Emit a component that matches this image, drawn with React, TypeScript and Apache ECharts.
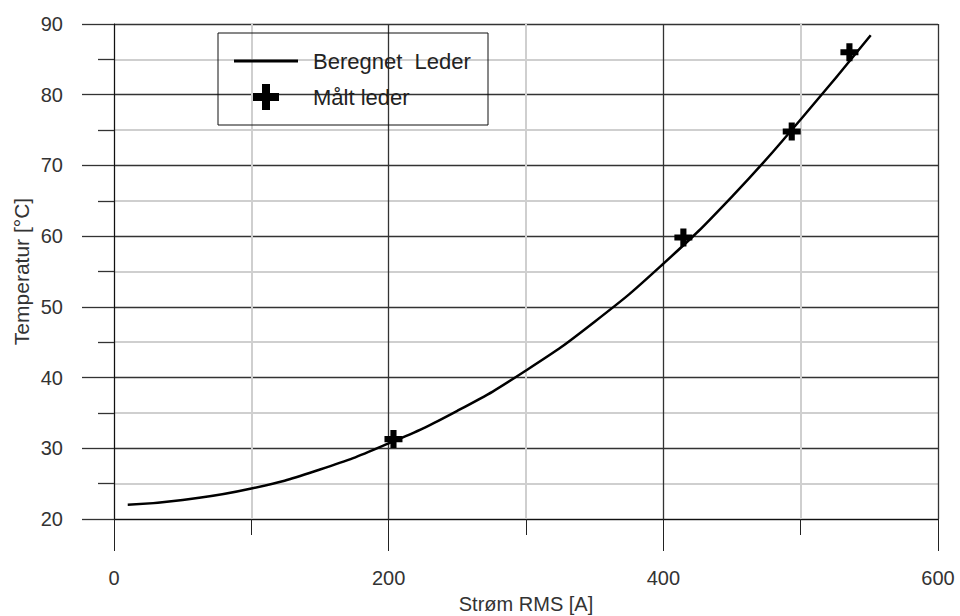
import React, { useEffect, useRef } from "react";
import * as echarts from "echarts";

const curveX = [10, 50, 100, 150, 200, 250, 300, 350, 400, 450, 500, 551];
const curveY = [22.0, 22.7, 24.3, 27.0, 30.7, 35.3, 41.0, 47.9, 56.1, 65.6, 76.5, 88.4];
const measuredX = [203.5, 414.6, 493.5, 535.5];
const measuredY = [31.3, 59.8, 74.8, 86.0];
const xTicks = [0, 200, 400, 600];
const yTicks = [20, 30, 40, 50, 60, 70, 80, 90];
const seriesNames = ["Beregnet  Leder", "Målt leder"];

const PLUS = "path://M3.3,0H6.7V3.3H10V6.7H6.7V10H3.3V6.7H0V3.3H3.3Z";
const FONT = "Liberation Sans, Arial, sans-serif";

function plusPoints(cx: number, cy: number, h: number, a: number) {
  return [
    [cx - a, cy - h], [cx + a, cy - h], [cx + a, cy - a], [cx + h, cy - a],
    [cx + h, cy + a], [cx + a, cy + a], [cx + a, cy + h], [cx - a, cy + h],
    [cx - a, cy + a], [cx - h, cy + a], [cx - h, cy - a], [cx - a, cy - a],
  ];
}

export default function App() {
  const ref = useRef<HTMLDivElement>(null);
  useEffect(() => {
    if (!ref.current) return;
    const chart = echarts.init(ref.current, null, { renderer: "svg" });
    const option = {
      animation: false,
      backgroundColor: "#fff",
      textStyle: { fontFamily: FONT },
      grid: { left: 114, right: 22, top: 24, bottom: 97, containLabel: false, outerBoundsMode: "none" },
      xAxis: {
        type: "value",
        min: xTicks[0],
        max: xTicks[xTicks.length - 1],
        interval: 200,
        name: "Strøm RMS [A]",
        nameLocation: "middle",
        nameGap: 75,
        nameMoveOverlap: false,
        nameTextStyle: { fontFamily: FONT, fontSize: 20, color: "#333" },
        axisLine: { show: true, lineStyle: { color: "#111", width: 1 } },
        axisTick: { show: true, length: 32, lineStyle: { color: "#222", width: 1 } },
        minorTick: { show: true, splitNumber: 2, length: 16, lineStyle: { color: "#222", width: 1 } },
        axisLabel: { margin: 49, fontFamily: FONT, fontSize: 20, color: "#333" },
        splitLine: { show: true, lineStyle: { color: "#333", width: 1.3 } },
        minorSplitLine: { show: true, lineStyle: { color: "#cfcfcf", width: 2 } },
      },
      yAxis: {
        type: "value",
        min: yTicks[0],
        max: yTicks[yTicks.length - 1],
        interval: 10,
        name: "Temperatur [°C]",
        nameLocation: "middle",
        nameGap: 82,
        nameMoveOverlap: false,
        nameTextStyle: { fontFamily: FONT, fontSize: 21, color: "#333" },
        axisLine: { show: true, lineStyle: { color: "#111", width: 1 } },
        axisTick: { show: true, length: 32, lineStyle: { color: "#333", width: 1.3 } },
        minorTick: { show: true, splitNumber: 2, length: 16, lineStyle: { color: "#333", width: 1.3 } },
        axisLabel: { margin: 51, fontFamily: FONT, fontSize: 20, color: "#333" },
        splitLine: { show: true, lineStyle: { color: "#333", width: 1.3 } },
        minorSplitLine: { show: true, lineStyle: { color: "#cfcfcf", width: 2 } },
      },
      graphic: [
        {
          type: "rect",
          shape: { x: 218, y: 33, width: 270, height: 92 },
          style: { fill: "none", stroke: "#111", lineWidth: 1 },
          z: 10,
        },
        {
          type: "line",
          shape: { x1: 234, y1: 61, x2: 298, y2: 61 },
          style: { stroke: "#000", lineWidth: 3 },
          z: 10,
        },
        {
          type: "polygon",
          shape: { points: plusPoints(266, 97, 13, 4) },
          style: { fill: "#000" },
          z: 10,
        },
        {
          type: "text",
          x: 313,
          y: 61,
          style: { text: seriesNames[0], fontFamily: FONT, fontSize: 22, fill: "#222", verticalAlign: "middle", align: "left" },
          z: 10,
        },
        {
          type: "text",
          x: 313,
          y: 97,
          style: { text: seriesNames[1], fontFamily: FONT, fontSize: 22, fill: "#222", verticalAlign: "middle", align: "left" },
          z: 10,
        },
      ],
      series: [
        {
          name: seriesNames[0],
          type: "line",
          data: curveX.map((x, i) => [x, curveY[i]]),
          smooth: true,
          symbol: "none",
          lineStyle: { color: "#000", width: 2.5 },
          itemStyle: { color: "#000" },
          z: 3,
        },
        {
          name: seriesNames[1],
          type: "scatter",
          data: measuredX.map((x, i) => [x, measuredY[i]]),
          symbol: PLUS,
          symbolSize: 18,
          symbolKeepAspect: true,
          itemStyle: { color: "#000", opacity: 1 },
          z: 4,
        },
      ],
    };
    chart.setOption(option as any);
    return () => chart.dispose();
  }, []);
  return <div ref={ref} style={{ width: 960, height: 616, position: "absolute", left: 0, top: 0 }} />;
}
